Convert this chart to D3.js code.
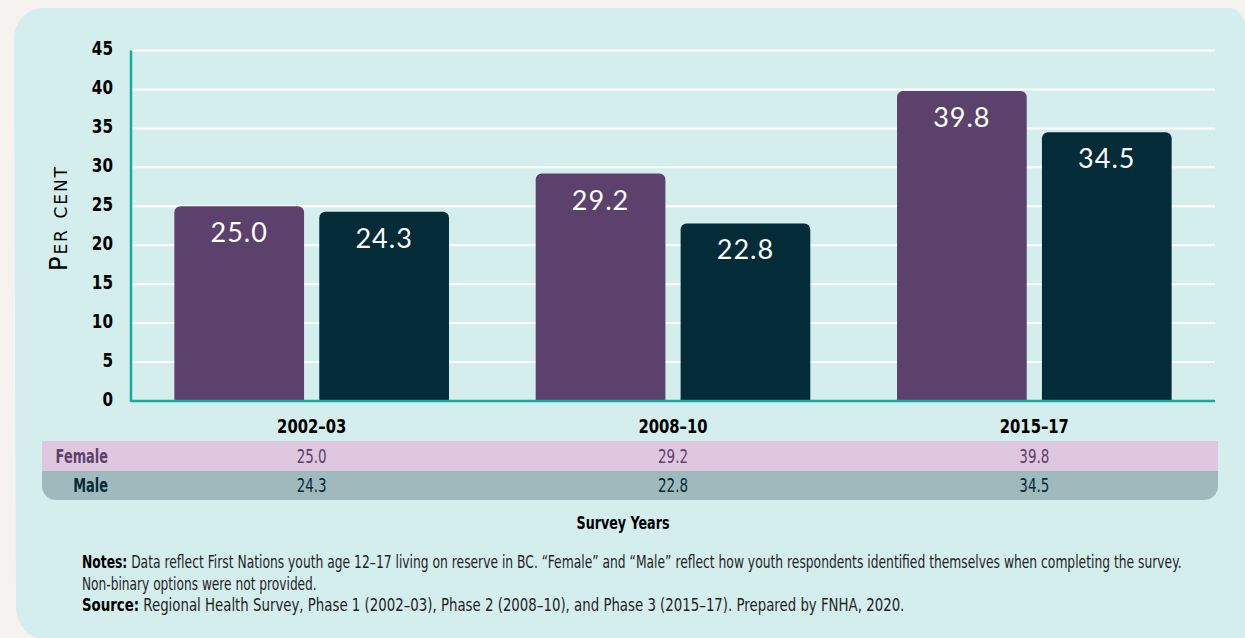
<!DOCTYPE html>
<html>
<head>
<meta charset="utf-8">
<script src="https://cdn.jsdelivr.net/npm/d3@7"></script>
<style>
    body { margin: 0; background: #f6f2ef; }
    svg { display: block; }
    .narrow { font-family: "DejaVu Sans", sans-serif; }
</style>
</head>
<body>
<div class="chart-container"></div>
<script>
// Chart data
const years = ['2002–03', '2008–10', '2015–17'];
const series = ['Female', 'Male'];
const femaleValues = [25.0, 29.2, 39.8];
const maleValues = [24.3, 22.8, 34.5];
const yTicks = [0, 5, 10, 15, 20, 25, 30, 35, 40, 45];

// Page params
const width = 1245;
const height = 638;
const colors = { Female: '#5c416d', Male: '#032b38' };
const rowColors = { Female: '#e0c7e0', Male: '#a0b9bd' };

const svg = d3.select('.chart-container')
    .append('svg')
    .attr('width', width)
    .attr('height', height);

// Squeeze text horizontally round its anchor point (no condensed font installed)
function condense(sel, s) {
    sel.each(function () {
        const ax = +d3.select(this).attr('x') || 0;
        d3.select(this).attr('transform', `translate(${ax},0) scale(${s},1) translate(${-ax},0)`);
    });
}

// Squeeze text to a given width
function fitWidth(sel, w) {
    const bw = sel.node().getBBox().width;
    condense(sel, w / bw);
}

// Panel background with rounded corners
const panel = d3.path();
panel.moveTo(14, 38);
panel.arcTo(14, 8, 44, 8, 30);
panel.lineTo(1228, 8);
panel.arcTo(1245, 8, 1245, 25, 17);
panel.lineTo(1245, 640);
panel.lineTo(48, 640);
panel.arcTo(16, 640, 16, 608, 32);
panel.closePath();
svg.append('path').attr('d', panel.toString()).attr('fill', '#d4eded');

// Scales
const x0 = d3.scaleBand()
    .domain(years)
    .range([131, 1215])
    .paddingInner(0.24)
    .paddingOuter(0.12);

const x1 = d3.scaleBand()
    .domain(series)
    .range([0, x0.bandwidth()])
    .paddingInner(0.105);

const y = d3.scaleLinear()
    .domain([0, 45])
    .range([401, 50.5]);

// Gridlines
svg.append('g')
    .selectAll('line')
    .data(yTicks.filter(d => d > 0))
    .enter()
    .append('line')
    .attr('x1', 131)
    .attr('x2', 1215)
    .attr('y1', d => y(d))
    .attr('y2', d => y(d))
    .attr('stroke', '#ffffff')
    .attr('stroke-width', 2);

// Y axis labels
const yAxis = svg.append('g')
    .attr('transform', 'translate(131,0)')
    .call(d3.axisLeft(y).tickValues(yTicks).tickSize(0).tickPadding(18));
yAxis.select('.domain').remove();
yAxis.selectAll('text')
    .attr('class', 'narrow')
    .attr('dy', '0.22em')
    .style('font-size', '20px')
    .style('font-weight', 'bold')
    .attr('fill', '#000');
condense(yAxis.selectAll('text'), 0.76);

// Y axis title
svg.append('text')
    .attr('transform', 'translate(67,219) rotate(-90)')
    .attr('text-anchor', 'middle')
    .attr('textLength', 104)
    .attr('lengthAdjust', 'spacing')
    .style('font-family', '"DejaVu Sans", sans-serif')
    .style('font-size', '24px')
    .style('font-variant', 'small-caps')
    .attr('fill', '#000')
    .text('Per cent');

// Bars
const rows = years.map((yr, i) => ({ year: yr, Female: femaleValues[i], Male: maleValues[i] }));

function topRoundedBar(x, yTop, w, yBottom, r) {
    const p = d3.path();
    p.moveTo(x, yBottom);
    p.lineTo(x, yTop + r);
    p.arcTo(x, yTop, x + r, yTop, r);
    p.lineTo(x + w - r, yTop);
    p.arcTo(x + w, yTop, x + w, yTop + r, r);
    p.lineTo(x + w, yBottom);
    p.closePath();
    return p.toString();
}

const groups = svg.selectAll('.group')
    .data(rows)
    .enter()
    .append('g')
    .attr('class', 'group')
    .attr('transform', d => `translate(${x0(d.year)},0)`);

const bars = groups.selectAll('.bar')
    .data(d => series.map(s => ({ key: s, value: d[s] })))
    .enter()
    .append('g')
    .attr('class', 'bar');

bars.append('path')
    .attr('d', d => topRoundedBar(x1(d.key), y(d.value), x1.bandwidth(), y(0), 6))
    .attr('fill', d => colors[d.key]);

bars.append('text')
    .attr('x', d => x1(d.key) + x1.bandwidth() / 2)
    .attr('y', d => y(d.value) + 36)
    .attr('text-anchor', 'middle')
    .style('font-family', 'Lato, "DejaVu Sans", sans-serif')
    .style('font-size', '27px')
    .style('letter-spacing', '1px')
    .attr('fill', '#ffffff')
    .text(d => d.value.toFixed(1));

// Baseline and y axis line
svg.append('line')
    .attr('x1', 131).attr('x2', 1215)
    .attr('y1', y(0)).attr('y2', y(0))
    .attr('stroke', '#17aa9f').attr('stroke-width', 2.5);
svg.append('line')
    .attr('x1', 131).attr('x2', 131)
    .attr('y1', y(45)).attr('y2', y(0) + 1)
    .attr('stroke', '#17aa9f').attr('stroke-width', 2.5);

// Category labels
const yearLabels = svg.selectAll('.year-label')
    .data(years)
    .enter()
    .append('text')
    .attr('class', 'year-label narrow')
    .attr('x', d => x0(d) + x0.bandwidth() / 2)
    .attr('y', 433)
    .attr('text-anchor', 'middle')
    .style('font-size', '20px')
    .style('font-weight', 'bold')
    .attr('fill', '#000')
    .text(d => d);
condense(yearLabels, 0.74);

// Data table rows
const tableRows = [
    { key: 'Female', values: femaleValues, y: 441, h: 30 },
    { key: 'Male', values: maleValues, y: 471, h: 29 }
];

const femaleRow = tableRows[0];
svg.append('rect')
    .attr('x', 42).attr('y', femaleRow.y)
    .attr('width', 1176).attr('height', femaleRow.h)
    .attr('fill', rowColors.Female);

const maleRow = tableRows[1];
const mp = d3.path();
mp.moveTo(42, maleRow.y);
mp.lineTo(1218, maleRow.y);
mp.lineTo(1218, maleRow.y + maleRow.h - 14);
mp.arcTo(1218, maleRow.y + maleRow.h, 1204, maleRow.y + maleRow.h, 14);
mp.lineTo(56, maleRow.y + maleRow.h);
mp.arcTo(42, maleRow.y + maleRow.h, 42, maleRow.y + maleRow.h - 14, 14);
mp.closePath();
svg.append('path').attr('d', mp.toString()).attr('fill', rowColors.Male);

tableRows.forEach(row => {
    const lab = svg.append('text')
        .attr('class', 'narrow')
        .attr('x', 108)
        .attr('y', row.y + row.h / 2 + 7)
        .attr('text-anchor', 'end')
        .style('font-size', '19px')
        .style('font-weight', 'bold')
        .attr('fill', colors[row.key])
        .text(row.key);
    condense(lab, 0.68);

    const cells = svg.selectAll('.cell-' + row.key)
        .data(row.values)
        .enter()
        .append('text')
        .attr('class', 'narrow cell-' + row.key)
        .attr('x', (d, i) => x0(years[i]) + x0.bandwidth() / 2)
        .attr('y', row.y + row.h / 2 + 7)
        .attr('text-anchor', 'middle')
        .style('font-size', '19px')
        .attr('fill', colors[row.key])
        .text(d => d.toFixed(1));
    condense(cells, 0.71);
});

// X axis title
const xTitle = svg.append('text')
    .attr('class', 'narrow')
    .attr('x', 623)
    .attr('y', 529)
    .attr('text-anchor', 'middle')
    .style('font-size', '18px')
    .style('font-weight', 'bold')
    .attr('fill', '#000')
    .text('Survey Years');
fitWidth(xTitle, 93);

// Notes and source
const notes = [
    { bold: 'Notes:', text: ' Data reflect First Nations youth age 12–17 living on reserve in BC. “Female” and “Male” reflect how youth respondents identified themselves when completing the survey.', y: 568, w: 1101 },
    { bold: '', text: 'Non-binary options were not provided.', y: 590, w: 235 },
    { bold: 'Source:', text: ' Regional Health Survey, Phase 1 (2002–03), Phase 2 (2008–10), and Phase 3 (2015–17). Prepared by FNHA, 2020.', y: 611, w: 823 }
];

notes.forEach(n => {
    const t = svg.append('text')
        .attr('class', 'narrow')
        .attr('x', 82)
        .attr('y', n.y)
        .style('font-size', '17px')
        .attr('fill', '#1f1f1f');
    if (n.bold) {
        t.append('tspan').style('font-weight', 'bold').attr('fill', '#000').text(n.bold);
    }
    t.append('tspan').text(n.text);
    fitWidth(t, n.w);
});
</script>
</body>
</html>
